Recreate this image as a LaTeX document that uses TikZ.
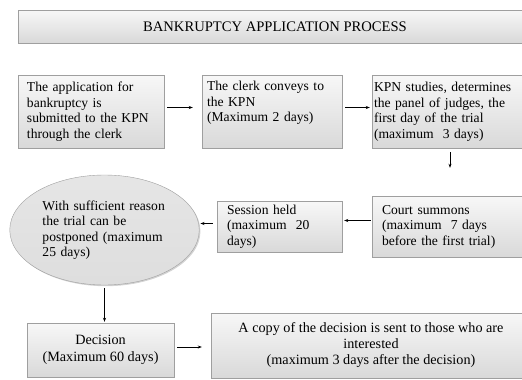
\documentclass[tikz,border=0pt]{standalone}
\usepackage{fontspec}
\setmainfont{Liberation Serif}
\usetikzlibrary{arrows.meta,shapes.geometric,shadows}
\tikzset{
  stepbox/.style={draw=gray!75, top color=gray!6, bottom color=gray!30,
    drop shadow={shadow xshift=1.2pt, shadow yshift=-1.2pt, opacity=0.35},
    inner sep=0pt, font=\fontsize{13.6}{15.5}\selectfont},
  flow/.style={-{Stealth[length=4pt,width=3pt]}, line width=0.6pt}
}
\begin{document}
\begin{tikzpicture}[x=1pt, y=-1pt]
\useasboundingbox (0,0) rectangle (522,380);
\clip (0,0) rectangle (522,380);
\node[stepbox, minimum width=514pt, minimum height=33pt, font=\fontsize{14.6}{16}\selectfont] (title) at (275,26.5) {BANKRUPTCY APPLICATION PROCESS};

\node[stepbox, minimum width=146pt, minimum height=73pt, text width=128pt, align=left] (a) at (91,111.5) {The application for\\bankruptcy is\\submitted to the KPN\\through the clerk};
\node[stepbox, minimum width=140pt, minimum height=73pt, text width=130pt, align=left] (b) at (272,111.5) {The clerk conveys to\\the KPN\\(Maximum 2 days)\\\strut};
\node[stepbox, minimum width=156pt, minimum height=73pt, text width=152pt, align=left] (c) at (450,111.5) {KPN studies, determines\\the panel of judges, the\\first day of the trial\\(maximum~ 3 days)};

\node[stepbox, minimum width=156pt, minimum height=61pt, text width=136pt, align=left] (court) at (450,226.5) {Court summons\\(maximum~ 7 days\\before the first trial)};
\node[stepbox, minimum width=125pt, minimum height=51pt, text width=105pt, align=left] (session) at (279.5,226.5) {Session held\\(maximum~ 20\\days)};
\node[stepbox, ellipse, top color=gray!20, bottom color=gray!26, minimum width=185pt, minimum height=110pt, text width=134pt, align=left] (postpone) at (104.5,230) {\hspace*{5pt}With sufficient reason\\\hspace*{5pt}the trial can be\\\hspace*{5pt}postponed (maximum\\\hspace*{5pt}25 days)};

\node[stepbox, minimum width=147pt, minimum height=54pt, align=center, font=\fontsize{14.2}{17}\selectfont] (decision) at (100.5,350) {Decision\\(Maximum 60 days)};
\node[stepbox, minimum width=320pt, minimum height=65pt, align=center, font=\fontsize{14.2}{16}\selectfont] (copy) at (371,345.5) {A copy of the decision is sent to those who are\\interested\\(maximum 3 days after the decision)};

\draw[flow, shorten <=3pt, shorten >=9pt] ([yshift=4pt]a.east) -- ([yshift=4pt]b.west);
\draw[flow, shorten <=3pt, shorten >=2pt] ([yshift=4pt]b.east) -- ([yshift=4pt]c.west);
\draw[flow, shorten <=4pt, shorten >=28pt] (c) -- (court);
\draw[flow, shorten <=1pt, shorten >=2pt] ([yshift=6pt]court.west) -- ([yshift=6pt]session.east);
\draw[flow, shorten <=4pt, shorten >=1pt] ([yshift=3pt]session.west) -- ([yshift=3pt]session.west -| postpone.east);
\draw[flow, shorten <=3pt, shorten >=1pt] (postpone.south) -- (postpone.south |- decision.north);
\draw[flow, shorten <=3pt, shorten >=9pt] ([yshift=3pt]decision.east) -- ([yshift=3pt]decision.east -| copy.west);
\end{tikzpicture}
\end{document}
